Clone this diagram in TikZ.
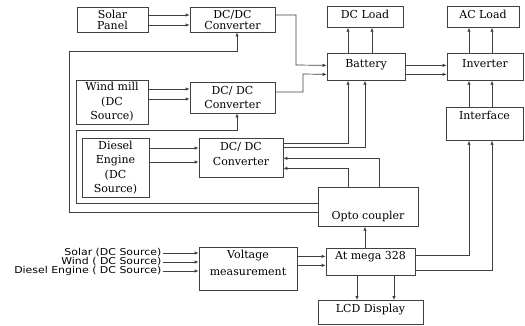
\documentclass[tikz,border=0pt]{standalone}
\usepackage{fontspec}
\usepackage{tikz}
\usetikzlibrary{arrows.meta, positioning}
\newfontfamily\blkfont{DejaVu Serif}
\newfontfamily\srcfont[FakeStretch=1.15]{DejaVu Sans}

\begin{document}
\begin{tikzpicture}[
  x=1pt, y=-1pt,
  blk/.style={draw=black!75, line width=0.7pt, inner sep=0pt, align=center, font=\blkfont\fontsize{11}{14.5}\selectfont},
  tight/.style={font=\blkfont\fontsize{11}{11}\selectfont},
  src/.style={font=\srcfont\fontsize{9.5}{9}\selectfont, inner xsep=1.5pt, inner ysep=0pt, anchor=east},
  arr/.style={draw=black!75, line width=0.7pt, -{Latex[length=4pt,width=3.5pt]}},
  ln/.style={draw=black!75, line width=0.7pt}
]
\useasboundingbox (0,0) rectangle (525,325);

% sources and converters
\node[blk, tight, minimum width=71pt, minimum height=25pt] (solar) at (112.5,19.5) {Solar\\Panel};
\node[blk, tight, minimum width=85pt, minimum height=25pt] (conv1) at (232.5,19.5) {DC/DC\\Converter};
\node[blk, minimum width=72pt, minimum height=44pt] (wind) at (112,102) {Wind mill\\(DC\\Source)};
\node[blk, minimum width=85pt, minimum height=31pt] (conv2) at (232.5,97.5) {DC/ DC\\Converter};
\node[blk, minimum width=67pt, minimum height=59pt] (diesel) at (115.5,167.5) {Diesel\\Engine\\(DC\\Source)};
\node[blk, anchor=north, minimum width=84pt, text height=27pt, text depth=12pt] (conv3) at (241,138) {DC/ DC\\Converter};

% storage and loads
\node[blk, anchor=north, minimum width=76pt, text height=12pt, text depth=9pt] (dcload) at (365,6) {DC Load};
\node[blk, anchor=north, minimum width=72pt, text height=12pt, text depth=9pt] (acload) at (483,6) {AC Load};
\node[blk, anchor=north, minimum width=78pt, text height=14pt, text depth=13pt] (battery) at (366,53) {Battery};
\node[blk, anchor=north, minimum width=76pt, text height=14pt, text depth=13pt] (inverter) at (485,53) {Inverter};
\node[blk, anchor=north, minimum width=77pt, text height=12pt, text depth=21pt] (interface) at (484.5,107) {Interface};

% control part
\node[blk, anchor=north, minimum width=100pt, text height=32pt, text depth=7pt] (opto) at (368,187) {Opto coupler};
\node[blk, anchor=north, minimum width=98pt, text height=28pt, text depth=15pt] (volt) at (248,247) {Voltage\\[2.5pt]measurement};
\node[blk, anchor=north, minimum width=89pt, text height=11pt, text depth=16pt] (atmega) at (370.5,248) {At mega 328};
\node[blk, anchor=north, minimum width=105pt, text height=12pt, text depth=12pt] (lcd) at (370.5,300) {LCD Display};

\node[src] (lsolar) at (163,253) {Solar (DC Source)};
\node[src] (lwind) at (163,262) {Wind ( DC Source)};
\node[src] (ldiesel) at (163,271) {Diesel Engine ( DC Source)};

% source -> converter
\draw[arr] ([yshift=4.5pt]solar.east) -- ([yshift=4.5pt]solar.east -| conv1.west);
\draw[arr] ([yshift=-5.5pt]solar.east) -- ([yshift=-5.5pt]solar.east -| conv1.west);
\draw[arr] ([yshift=13pt]wind.east) -- ([yshift=13pt]wind.east -| conv2.west);
\draw[arr] ([yshift=3pt]wind.east) -- ([yshift=3pt]wind.east -| conv2.west);
\draw[arr] ([yshift=19.5pt]diesel.east) -- ([yshift=19.5pt]diesel.east -| conv3.west);
\draw[arr] ([yshift=5.5pt]diesel.east) -- ([yshift=5.5pt]diesel.east -| conv3.west);

% converter -> battery
\draw[arr] ([yshift=4.5pt]conv1.east) -| (296,65) -- ([yshift=1.5pt]battery.west);
\draw[arr] ([yshift=5.5pt]conv2.east) -| (303,74) -- ([yshift=-7.5pt]battery.west);
\draw[arr] ([yshift=14.5pt]conv3.east) -| ([xshift=-18pt]battery.south);
\draw[arr] ([yshift=10.5pt]conv3.east) -| ([xshift=-1pt]battery.south);

% battery -> loads
\draw[arr] ([xshift=-18pt]battery.north) -- ([xshift=-18pt]battery.north |- dcload.south);
\draw[arr] ([xshift=6pt]battery.north) -- ([xshift=6pt]battery.north |- dcload.south);
\draw[arr] ([yshift=1.5pt]battery.east) -- ([yshift=1.5pt]battery.east -| inverter.west);
\draw[arr] ([yshift=-7.5pt]battery.east) -- ([yshift=-7.5pt]battery.east -| inverter.west);
\draw[arr] ([xshift=-16pt]inverter.north) -- ([xshift=-16pt]inverter.north |- acload.south);
\draw[arr] ([xshift=7pt]inverter.north) -- ([xshift=7pt]inverter.north |- acload.south);
\draw[arr] ([xshift=-15.5pt]interface.north) -- ([xshift=-15.5pt]interface.north |- inverter.south);
\draw[arr] ([xshift=7.5pt]interface.north) -- ([xshift=7.5pt]interface.north |- inverter.south);

% opto coupler feedback
\draw[arr] ([xshift=11pt]opto.north) |- ([yshift=-0.5pt]conv3.east);
\draw[arr] ([xshift=-20pt]opto.north) |- ([yshift=-10.5pt]conv3.east);
\draw[arr] ([yshift=3.5pt]opto.west) -| (76,130) -| ([xshift=4.5pt]conv2.south);
\draw[arr] ([yshift=-5.5pt]opto.west) -| (69,51) -| ([xshift=4.5pt]conv1.south);

% measurement and controller
\draw[arr] (lsolar.east) -- (lsolar.east -| volt.west);
\draw[arr] (lwind.east) -- (lwind.east -| volt.west);
\draw[arr] (ldiesel.east) -- (ldiesel.east -| volt.west);
\draw[arr] ([yshift=12.5pt]volt.east) -- ([yshift=12.5pt]volt.east -| atmega.west);
\draw[arr] ([yshift=3.5pt]volt.east) -- ([yshift=3.5pt]volt.east -| atmega.west);
\draw[arr] ([xshift=-5.5pt]atmega.north) -- ([xshift=-5.5pt]atmega.north |- opto.south);
\draw[arr] ([xshift=-13.5pt]atmega.south) -- ([xshift=-13.5pt]atmega.south |- lcd.north);
\draw[arr] ([xshift=23.5pt]atmega.south) -- ([xshift=23.5pt]atmega.south |- lcd.north);
\draw[arr] ([yshift=6.5pt]atmega.east) -| ([xshift=-15.5pt]interface.south);
\draw[arr] ([yshift=-8.5pt]atmega.east) -| ([xshift=7.5pt]interface.south);
\end{tikzpicture}
\end{document}
